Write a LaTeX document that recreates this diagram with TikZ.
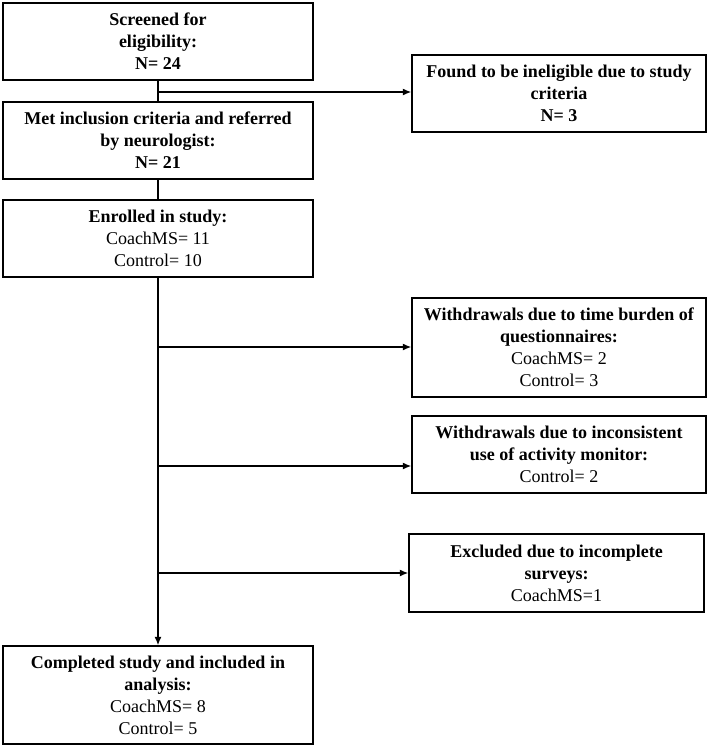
\documentclass[tikz,border=0pt]{standalone}
\usepackage{fontspec}
\setmainfont{Liberation Serif}
\usetikzlibrary{arrows.meta}
\begin{document}
\begin{tikzpicture}[x=1pt,y=-1pt,
  box/.style={draw, line width=1.4pt, inner sep=0pt, align=center,
    font=\fontsize{18}{22}\selectfont},
  lbox/.style={box, minimum width=310pt},
  rbox/.style={box, minimum width=294pt},
  conn/.style={line width=1.4pt},
  arr/.style={conn, -{Latex[length=8.5pt,width=7pt]}}]
\useasboundingbox (0,0) rectangle (714,750);
\node[lbox, minimum height=77pt] (screen) at (158,41.5)
  {\textbf{Screened for}\\\textbf{eligibility:}\\\textbf{N= 24}};
\node[lbox, minimum height=77pt] (met) at (158,140.5)
  {\textbf{Met inclusion criteria and referred}\\\textbf{by neurologist:}\\\textbf{N= 21}};
\node[lbox, minimum height=77pt] (enr) at (158,238.5)
  {\textbf{Enrolled in study:}\\CoachMS= 11\\Control= 10};
\node[lbox, minimum height=98pt] (final) at (158,695)
  {\textbf{Completed study and included in}\\\textbf{analysis:}\\CoachMS= 8\\Control= 5};
\node[rbox, minimum height=77pt] (found) at (559,93.5)
  {\textbf{Found to be ineligible due to study}\\\textbf{criteria}\\\textbf{N= 3}};
\node[rbox, minimum height=99pt] (w1) at (559,347.5)
  {\textbf{Withdrawals due to time burden of}\\\textbf{questionnaires:}\\CoachMS= 2\\Control= 3};
\node[rbox, minimum height=77pt] (w2) at (559,454.5)
  {\textbf{Withdrawals due to inconsistent}\\\textbf{use of activity monitor:}\\Control= 2};
\node[box, minimum width=295pt, minimum height=78pt] (excl) at (556.5,573)
  {\textbf{Excluded due to incomplete}\\\textbf{surveys:}\\CoachMS=1};
\coordinate (b0) at (158,92);
\coordinate (b1) at (158,347);
\coordinate (b2) at (158,466);
\coordinate (b3) at (158,573);
\draw[conn] (screen) -- (met);
\draw[conn] (met) -- (enr);
\draw[arr] (enr) -- (final);
\draw[arr] (b0) -- (b0 -| found.west);
\draw[arr] (b1) -- (b1 -| w1.west);
\draw[arr] (b2) -- (b2 -| w2.west);
\draw[arr] (b3) -- (b3 -| excl.west);
\end{tikzpicture}
\end{document}
